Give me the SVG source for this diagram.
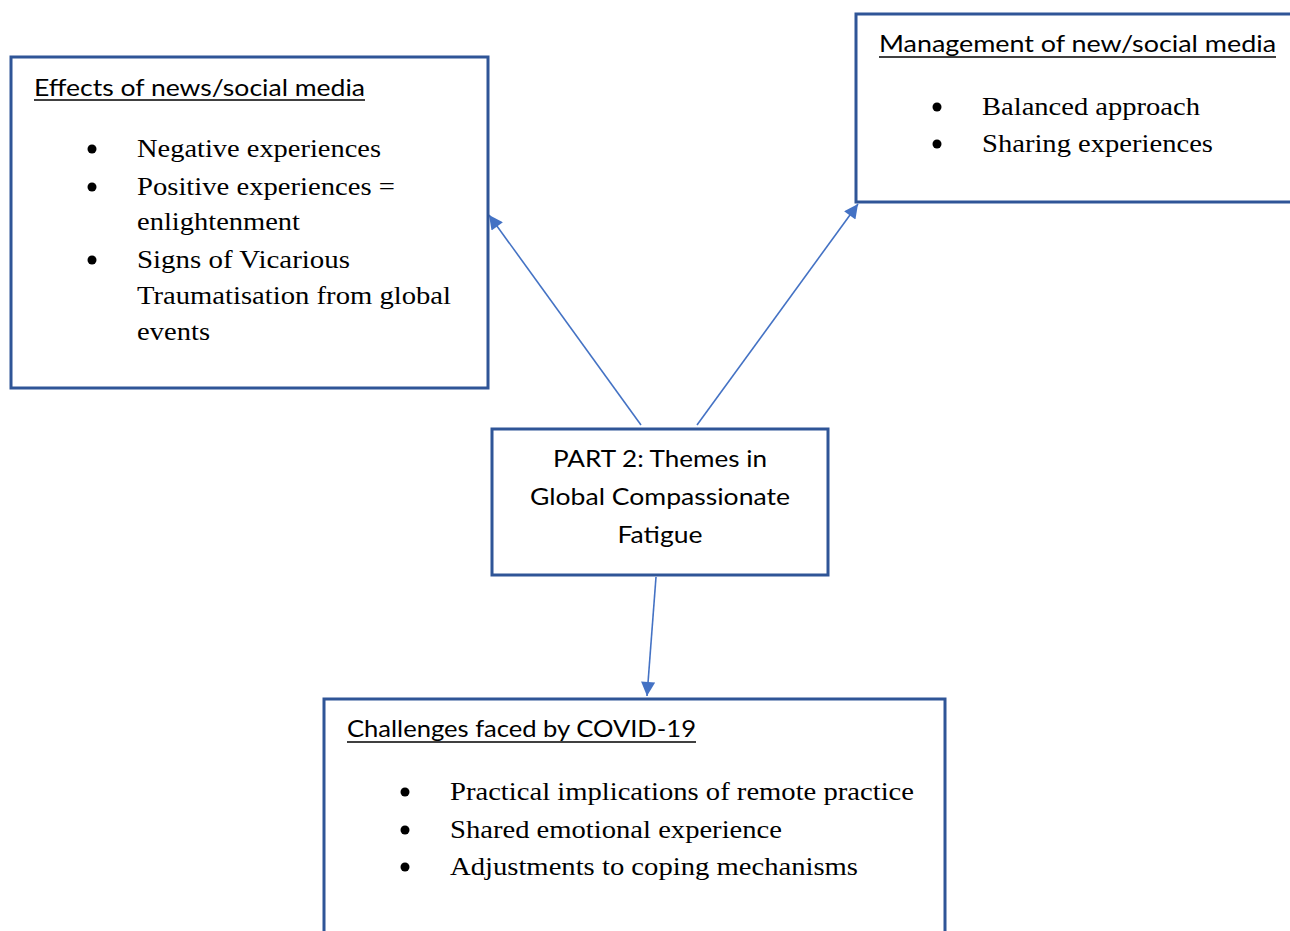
<svg xmlns="http://www.w3.org/2000/svg" width="1290" height="931" viewBox="0 0 1290 931">
<style>
.box{fill:#fff;stroke:#2F5597;stroke-width:3}
.hd{font-family:"Lato","Open Sans",sans-serif;font-size:24px;fill:#000}
.ul{stroke:#000;stroke-width:1.5}
.tx{font-family:"Liberation Serif","Times New Roman",serif;font-size:26px;fill:#000}
.ct{font-family:"Lato","Open Sans",sans-serif;font-size:24px;fill:#000;text-anchor:middle}
.bu{fill:#000}
.con{stroke:#4472C4;stroke-width:1.6;fill:none;marker-end:url(#ah)}
</style>
<defs>
<marker id="ah" viewBox="0 0 10 10" refX="10" refY="5" markerWidth="16" markerHeight="14" markerUnits="userSpaceOnUse" orient="auto">
<path d="M0,0 L10,5 L0,10 z" fill="#4472C4"/>
</marker>
</defs>
<rect width="1290" height="931" fill="#fff"/>
<g id="connectors">
<line class="con" x1="641" y1="425" x2="489" y2="215"/>
<line class="con" x1="697" y1="425" x2="858" y2="204"/>
<line class="con" x1="656" y1="577" x2="647" y2="696"/>
</g>
<g id="effects">
<rect class="box" x="11" y="57" width="477" height="331"/>
<text class="hd" x="34" y="96" textLength="331" lengthAdjust="spacingAndGlyphs">Effects of news/social media</text>
<line class="ul" x1="34" y1="100" x2="365" y2="100"/>
<circle class="bu" cx="92" cy="149" r="4.5"/>
<circle class="bu" cx="92" cy="187" r="4.5"/>
<circle class="bu" cx="92" cy="260" r="4.5"/>
<text class="tx" x="137" y="157" textLength="244" lengthAdjust="spacingAndGlyphs">Negative experiences</text>
<text class="tx" x="137" y="195" textLength="258" lengthAdjust="spacingAndGlyphs">Positive experiences =</text>
<text class="tx" x="137" y="230" textLength="163" lengthAdjust="spacingAndGlyphs">enlightenment</text>
<text class="tx" x="137" y="268" textLength="213" lengthAdjust="spacingAndGlyphs">Signs of Vicarious</text>
<text class="tx" x="137" y="304" textLength="314" lengthAdjust="spacingAndGlyphs">Traumatisation from global</text>
<text class="tx" x="137" y="340" textLength="73" lengthAdjust="spacingAndGlyphs">events</text>
</g>
<g id="management">
<rect class="box" x="856" y="14" width="440" height="188"/>
<text class="hd" x="879" y="52" textLength="397" lengthAdjust="spacingAndGlyphs">Management of new/social media</text>
<line class="ul" x1="879" y1="57" x2="1276" y2="57"/>
<circle class="bu" cx="937" cy="107" r="4.5"/>
<circle class="bu" cx="937" cy="144" r="4.5"/>
<text class="tx" x="982" y="115" textLength="218" lengthAdjust="spacingAndGlyphs">Balanced approach</text>
<text class="tx" x="982" y="152" textLength="231" lengthAdjust="spacingAndGlyphs">Sharing experiences</text>
</g>
<g id="center">
<rect class="box" x="492" y="429" width="336" height="146"/>
<text class="ct" x="660" y="467" textLength="214" lengthAdjust="spacingAndGlyphs">PART 2: Themes in</text>
<text class="ct" x="660" y="505" textLength="260" lengthAdjust="spacingAndGlyphs">Global Compassionate</text>
<text class="ct" x="660" y="543" textLength="85" lengthAdjust="spacingAndGlyphs">Fatigue</text>
</g>
<g id="challenges">
<rect class="box" x="324" y="699" width="621" height="250"/>
<text class="hd" x="347" y="737" textLength="349" lengthAdjust="spacingAndGlyphs">Challenges faced by COVID-19</text>
<line class="ul" x1="347" y1="742" x2="696" y2="742"/>
<circle class="bu" cx="405" cy="792" r="4.5"/>
<circle class="bu" cx="405" cy="830" r="4.5"/>
<circle class="bu" cx="405" cy="867" r="4.5"/>
<text class="tx" x="450" y="800" textLength="464" lengthAdjust="spacingAndGlyphs">Practical implications of remote practice</text>
<text class="tx" x="450" y="838" textLength="332" lengthAdjust="spacingAndGlyphs">Shared emotional experience</text>
<text class="tx" x="450" y="875" textLength="408" lengthAdjust="spacingAndGlyphs">Adjustments to coping mechanisms</text>
</g>
</svg>
